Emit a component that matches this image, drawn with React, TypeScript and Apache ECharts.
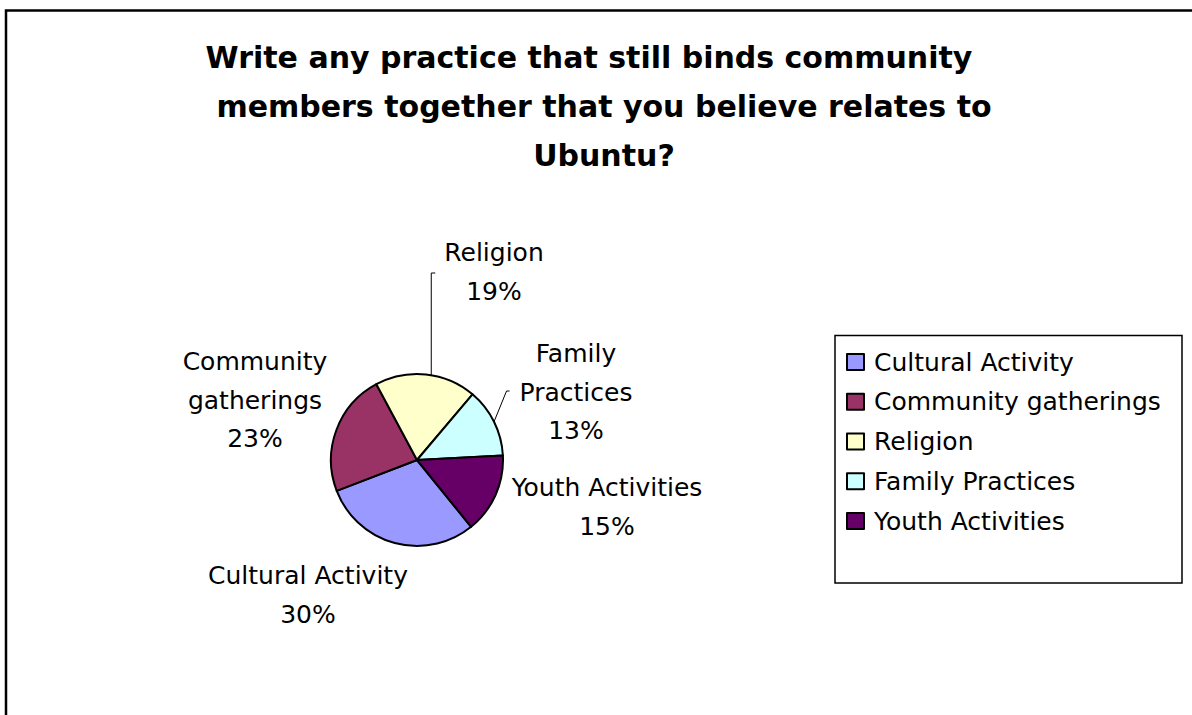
import React, { useEffect, useRef } from "react";
import * as echarts from "echarts";

const titleLines = [
  "Write any practice that still binds community",
  "members together that you believe relates to",
  "Ubuntu?",
];
const categories = [
  "Cultural Activity",
  "Community gatherings",
  "Religion",
  "Family Practices",
  "Youth Activities",
];
const values = [30, 23, 19, 13, 15];
const colors = ["#9999FF", "#993366", "#FFFFCC", "#CCFFFF", "#660066"];
const labelTexts = [
  "Cultural Activity\n30%",
  "Community\ngatherings\n23%",
  "Religion\n19%",
  "Family\nPractices\n13%",
  "Youth Activities\n15%",
];

// layout only
const PIE_CX = 417;
const PIE_CY = 460;
const PIE_R = 86;
const START_ANGLE = -51;
const labelOffsets: [number, number][] = [
  [-109, 135],
  [-162, -60],
  [77, -188],
  [159, -68],
  [190, 47],
];
// leader line styles per slice: none / vertical from pie top / radial from slice middle
const leaderKinds = ["none", "none", "vertical", "radial", "none"];

const FONT = "'DejaVu Sans', sans-serif";

function midAngleRad(i: number): number {
  const total = values.reduce((a, b) => a + b, 0);
  let before = 0;
  for (let k = 0; k < i; k++) before += values[k];
  const deg = START_ANGLE - ((before + values[i] / 2) / total) * 360;
  return (deg * Math.PI) / 180;
}

export default function App() {
  const ref = useRef<HTMLDivElement>(null);
  useEffect(() => {
    if (!ref.current) return;
    const chart = echarts.init(ref.current, undefined, { renderer: "svg" });
    chart.setOption({
      animation: false,
      backgroundColor: "#ffffff",
      color: colors,
      title: {
        text:
          "{a|" + titleLines[0] + "}\n{b|" + titleLines[1] + "}\n{b|" + titleLines[2] + "}",
        left: 604,
        top: 33,
        padding: 0,
        textAlign: "center",
        textStyle: {
          fontFamily: FONT,
          fontWeight: "bold",
          fontSize: 30,
          lineHeight: 49,
          color: "#000",
          rich: {
            a: {
              fontFamily: FONT,
              fontWeight: "bold",
              fontSize: 30,
              lineHeight: 49,
              color: "#000",
              padding: [0, 30, 0, 0],
            },
            b: {
              fontFamily: FONT,
              fontWeight: "bold",
              fontSize: 30,
              lineHeight: 49,
              color: "#000",
            },
          },
        },
      },
      legend: {
        orient: "vertical",
        left: 846,
        top: 347,
        padding: 0,
        itemWidth: 17,
        itemHeight: 16,
        itemGap: 9.75,
        icon: "rect",
        data: categories,
        itemStyle: { borderColor: "#000", borderWidth: 2 },
        textStyle: {
          fontFamily: FONT,
          fontSize: 25,
          lineHeight: 30,
          color: "#000",
          padding: [0, 0, 0, 5],
        },
      },
      graphic: [
        {
          type: "rect",
          shape: { x: 6, y: 10.5, width: 1400, height: 900 },
          style: { fill: "none", stroke: "#000", lineWidth: 2.5 },
          silent: true,
        },
        {
          type: "rect",
          shape: { x: 835, y: 335.5, width: 347, height: 247.5 },
          style: { fill: "none", stroke: "#000", lineWidth: 1.5 },
          silent: true,
          z: -1,
        },
      ],
      series: [
        {
          type: "pie",
          center: [PIE_CX, PIE_CY],
          radius: PIE_R,
          startAngle: START_ANGLE,
          clockwise: true,
          avoidLabelOverlap: false,
          itemStyle: { borderColor: "#000", borderWidth: 2 },
          emphasis: { disabled: true },
          label: {
            show: true,
            position: "outside",
            fontFamily: FONT,
            fontSize: 25,
            lineHeight: 38.5,
            color: "#000",
            align: "center",
            formatter: (p: any) => labelTexts[p.dataIndex],
          },
          labelLine: {
            show: false,
            length: 10,
            length2: 4,
            smooth: false,
            lineStyle: { color: "#000", width: 1 },
          },
          labelLayout: (params: any) => {
            const i = params.dataIndex;
            const off = labelOffsets[i];
            const x = PIE_CX + off[0];
            const y = PIE_CY + off[1];
            const out: any = { x, y, align: "center", verticalAlign: "middle" };
            const kind = leaderKinds[i];
            if (kind !== "none" && params.labelRect) {
              const left = x - params.labelRect.width / 2;
              if (kind === "vertical") {
                const ex = left - 13;
                const dx = ex - PIE_CX;
                const sy = PIE_CY - Math.sqrt(PIE_R * PIE_R - dx * dx);
                out.labelLinePoints = [
                  [ex, sy],
                  [ex, y + 1],
                  [left - 9, y + 1],
                ];
              } else {
                const a = midAngleRad(i);
                out.labelLinePoints = [
                  [PIE_CX + PIE_R * Math.cos(a), PIE_CY - PIE_R * Math.sin(a)],
                  [left - 13, y - 1],
                  [left - 10, y - 1],
                ];
              }
            }
            return out;
          },
          data: categories.map((name, i) => ({
            name,
            value: values[i],
            labelLine: { show: leaderKinds[i] !== "none" },
          })),
        },
      ],
    });
    return () => chart.dispose();
  }, []);
  return (
    <div
      ref={ref}
      style={{ position: "fixed", left: 0, top: 0, width: 1192, height: 715 }}
    />
  );
}
